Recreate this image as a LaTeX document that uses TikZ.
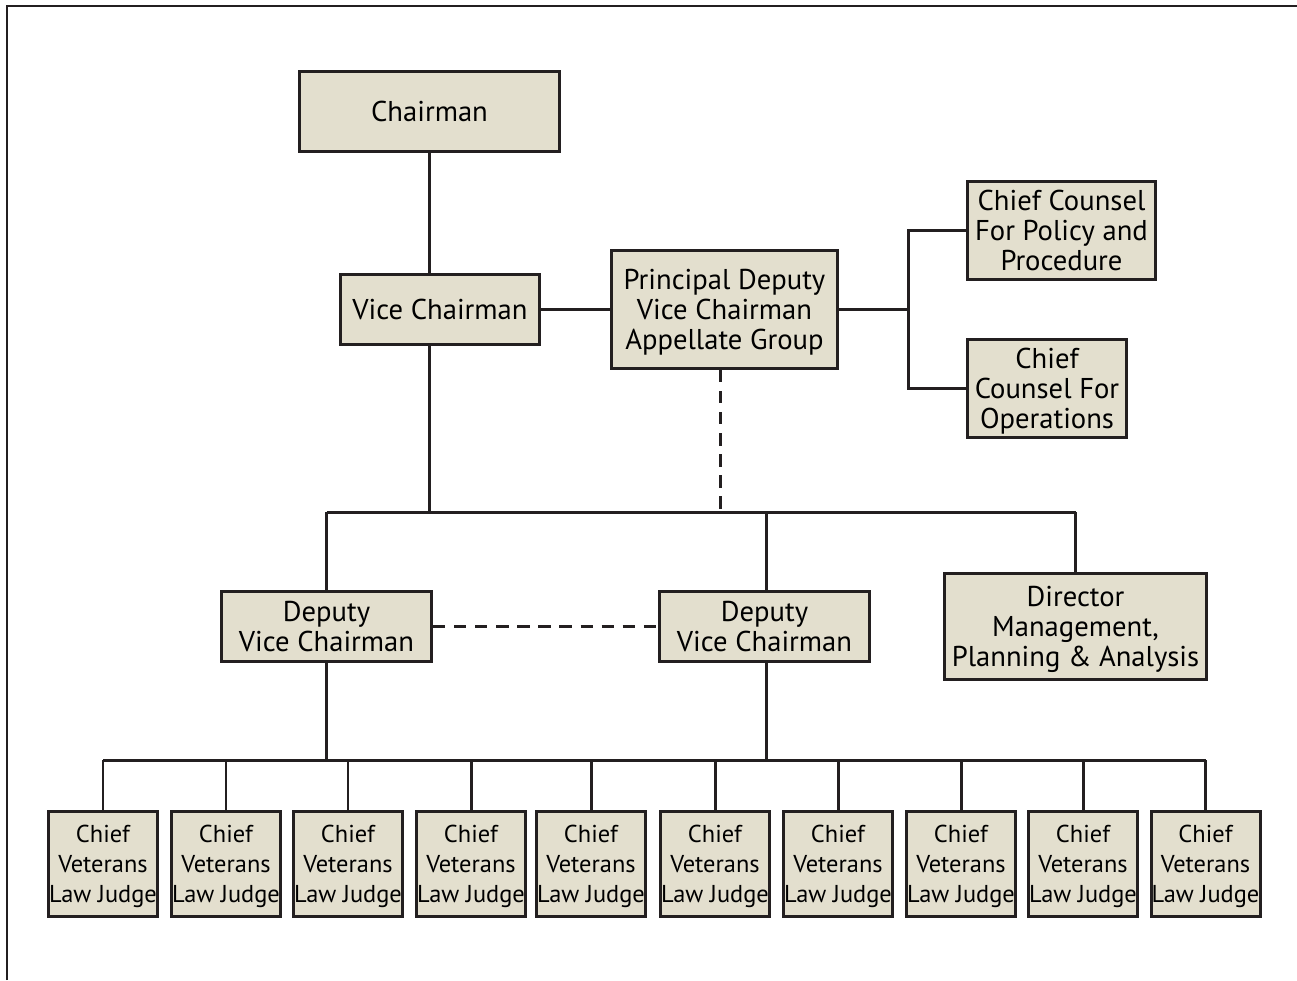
\documentclass[tikz,border=0pt]{standalone}
\usepackage{fontspec}
\setmainfont{PT Sans}
\usepackage{tikz}

\definecolor{boxfill}{RGB}{227,223,206}
\definecolor{linie}{RGB}{35,31,32}

\tikzset{
    box/.style={draw=linie, line width=1.7pt, fill=boxfill, align=center,
        inner sep=0pt, text depth=-1.5pt, font=\fontsize{16.3}{17}\selectfont},
    judge/.style={box, minimum width=2.18cm, minimum height=2.1cm,
        font=\fontsize{13.9}{17}\selectfont},
    verb/.style={draw=linie, line width=1.7pt},
    gestr/.style={verb, dash pattern=on 7pt off 5pt},
}

\begin{document}
\begin{tikzpicture}[x=0.02cm, y=-0.02cm]
    \useasboundingbox (0,0) rectangle (1297,980);
    % Rahmen:
    \draw[verb] (7,980) -- (7,6) -- (1297,6);

    % Leitung:
    \node[box, minimum width=5.2cm, minimum height=1.6cm] (chair) at (429.5,111.5) {Chairman};
    \node[box, minimum width=3.98cm, minimum height=1.4cm] (vice) at (440,309.5) {Vice Chairman};
    \node[box, minimum width=4.52cm, minimum height=2.36cm] (pdvc) at (724.5,309.5)
        {Principal Deputy\\Vice Chairman\\Appellate Group};
    \node[box, minimum width=3.76cm, minimum height=1.96cm] (policy) at (1061.5,230.5)
        {Chief Counsel\\For Policy and\\Procedure};
    \node[box, minimum width=3.18cm, minimum height=1.96cm] (oper) at (1047,388.5)
        {Chief\\Counsel For\\Operations};

    % mittlere Ebene:
    \node[box, minimum width=4.2cm, minimum height=1.4cm] (dvcA) at (326.5,626.5) {Deputy\\Vice Chairman};
    \node[box, minimum width=4.2cm, minimum height=1.4cm] (dvcB) at (764.5,626.5) {Deputy\\Vice Chairman};
    \node[box, minimum width=5.24cm, minimum height=2.12cm] (dmpa) at (1075.5,626.5)
        {Director\\Management,\\Planning \& Analysis};

    % Sammelleitungen:
    \coordinate (busA) at (429,512);
    \coordinate (busB) at (0,760);
    \coordinate (gabel) at (908,309.5);

    \draw[verb] (chair.south -| busA) -- (vice.north -| busA);
    \draw[verb] (vice) -- (pdvc);
    \draw[verb] (pdvc.east) -- (gabel);
    \draw[verb] (policy.west) -- (policy.west -| gabel) -- (oper.west -| gabel) -- (oper.west);
    \draw[verb] (vice.south -| busA) -- (busA);
    \draw[verb] (dvcA.north |- busA) -- (dmpa.north |- busA);
    \draw[gestr] (pdvc.south -| 720,0) -- (busA -| 720,0);
    \draw[verb] (dvcA.north |- busA) -- (dvcA.north);
    \draw[verb] (766,512) -- (dvcB.north -| 766,0);
    \draw[verb] (dmpa.north |- busA) -- (dmpa.north);
    \draw[gestr] (dvcA.east) -- (dvcB.west);
    \draw[verb] (dvcA.south) -- (dvcA.south |- busB);
    \draw[verb] (dvcB.south -| 766,0) -- (busB -| 766,0);

    % Richter:
    \foreach \x [count=\i] in {103,226,348,471,591,715,838,961,1083,1205.5} {
        \node[judge] (cvlj\i) at (\x,864) {Chief\\Veterans\\Law Judge};
        \draw[verb] (cvlj\i.north) -- (cvlj\i.north |- busB);
    }
    \draw[verb] (cvlj1.north |- busB) -- (cvlj10.north |- busB);
\end{tikzpicture}
\end{document}
